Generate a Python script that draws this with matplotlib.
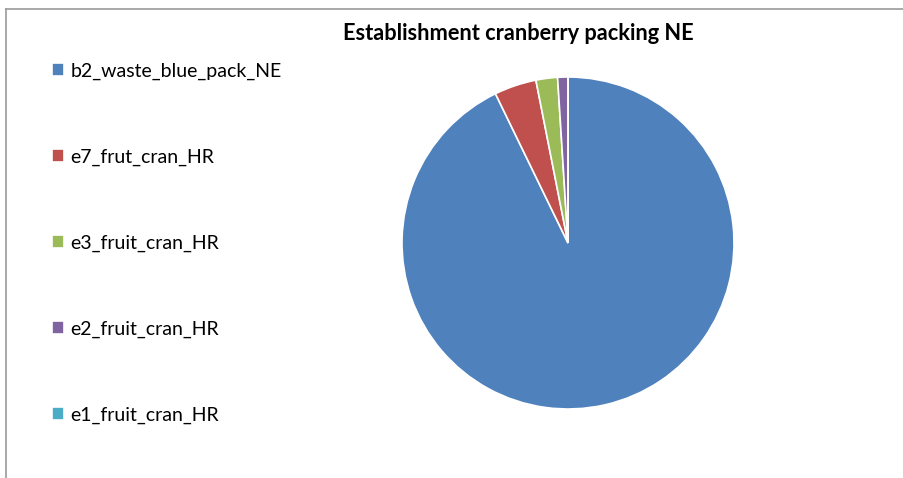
import matplotlib
matplotlib.use("Agg")
import matplotlib.pyplot as plt
from matplotlib.lines import Line2D

plt.rcParams["font.family"] = ["Lato", "DejaVu Sans"]

# data
labels = ["b2_waste_blue_pack_NE", "e7_frut_cran_HR", "e3_fruit_cran_HR",
          "e2_fruit_cran_HR", "e1_fruit_cran_HR"]
values = [92.8, 4.1, 2.1, 1.0, 0.0]
colors = ["#4F81BD", "#C0504D", "#9BBB59", "#8064A2", "#4BACC6"]
title = "Establishment cranberry packing NE"

W, H = 904, 478
fig = plt.figure(figsize=(W / 100, H / 100), dpi=100)

# chart area border (top and left only visible)
fig.add_artist(Line2D([6 / W, 6 / W], [0, 1 - 9 / H], color="#9a9a9a", lw=1.2))
fig.add_artist(Line2D([6 / W, 1], [1 - 9 / H, 1 - 9 / H], color="#9a9a9a", lw=1.2))

# pie
cx, cy, r = 568, 243, 166
ax = fig.add_axes([(cx - r) / W, (H - cy - r) / H, 2 * r / W, 2 * r / H])
wedges, _ = ax.pie(values, colors=colors, startangle=90, counterclock=False,
                   radius=1.0, wedgeprops=dict(edgecolor="white", linewidth=1.2))
ax.set_xlim(-1, 1)
ax.set_ylim(-1, 1)
ax.set_aspect("equal")

fig.text(518 / W, 1 - 33 / H, title, ha="center", va="center",
         fontsize=15.7, fontweight="bold")

fig.legend(wedges, labels, loc="upper left", bbox_to_anchor=(42 / W, 1 - 53 / H),
           frameon=False, fontsize=14, handlelength=0.65, handleheight=0.65,
           handletextpad=0.3, labelspacing=3.53, borderpad=0)

fig.savefig("out.png", dpi=100)
